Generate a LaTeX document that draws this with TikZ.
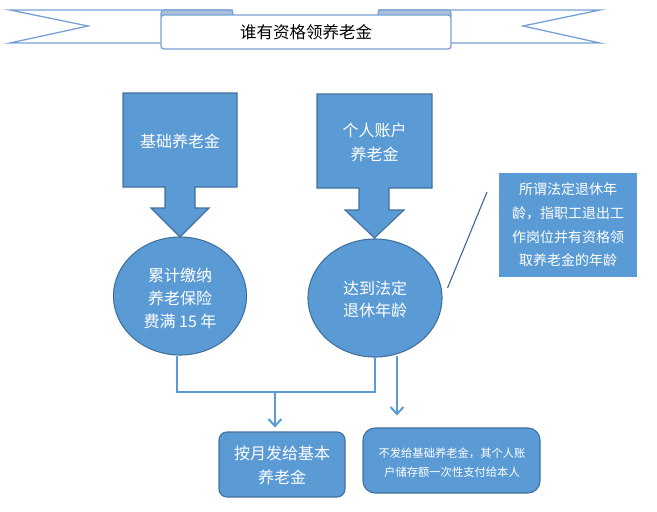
\documentclass[tikz,border=0pt]{standalone}
\usepackage{fontspec}
\setmainfont{Noto Sans CJK SC}
\usetikzlibrary{shapes.geometric,arrows.meta}
\definecolor{fillblue}{RGB}{91,155,213}
\definecolor{edgeblue}{RGB}{65,113,156}
\definecolor{ribbon}{RGB}{120,160,212}
\definecolor{foldc}{RGB}{172,192,222}
\definecolor{leader}{RGB}{70,100,150}
\begin{document}
\begin{tikzpicture}[x=1pt,y=-1pt,
  ribbonline/.style={draw=ribbon,line width=1.3pt,fill=white,line join=miter},
  foldpiece/.style={draw=ribbon,line width=1.1pt,fill=foldc,rounded corners=3pt},
  bluefill/.style={fill=fillblue,draw=edgeblue,line width=1.1pt},
  wtext/.style={text=white,align=center,inner sep=0pt},
  conn/.style={draw=fillblue,line width=2pt},
  tipc/.style={-{Straight Barb[length=7pt,width=13pt,line width=2pt]}}
]
\useasboundingbox (0,0) rectangle (657,512);
\fill[white] (0,0) rectangle (657,512);
% ribbon tails
\draw[ribbonline] (233,10) -- (10,10) -- (88,26) -- (10,43) -- (161,43);
\draw[ribbonline] (378,10) -- (600,10) -- (523,26) -- (600,43) -- (451,43);
% folds
\draw[foldpiece] (161,10) rectangle (233,19);
\draw[foldpiece] (378,10) rectangle (451,19);
% band
\node[ribbonline,rounded corners=3pt,minimum width=290pt,minimum height=34pt,inner sep=0pt,
  font=\fontsize{16.5}{18}\selectfont] (title) at (306,32) {谁有资格领养老金};

% left down-arrow callout
\draw[bluefill] (123,93) -- (237,93) -- (237,187) -- (195,187) -- (195,208) -- (209,208) -- (180,237)
  -- (151,208) -- (165,208) -- (165,187) -- (123,187) -- cycle;
\node[wtext,font=\fontsize{16}{24}\selectfont] (basic) at (180,141) {基础养老金};
% right down-arrow callout
\draw[bluefill] (317,94) -- (432,94) -- (432,188) -- (389,188) -- (389,210) -- (404,210) -- (374.5,238)
  -- (345,210) -- (359,210) -- (359,188) -- (317,188) -- cycle;
\node[wtext,font=\fontsize{16}{24}\selectfont] (personal) at (374.5,142) {个人账户\\养老金};

% ellipses
\node[bluefill,ellipse,minimum width=133pt,minimum height=118pt,inner sep=0pt] (le) at (180,296) {};
\node[wtext,font=\fontsize{16}{23}\selectfont] (letext) at (180,298) {累计缴纳\\养老保险\\费满 15 年};
\node[bluefill,ellipse,minimum width=134pt,minimum height=118pt,inner sep=0pt] (re) at (375,298) {};
\node[wtext,font=\fontsize{16}{22}\selectfont] (retext) at (375,299) {达到法定\\退休年龄};

% note
\node[fill=fillblue,minimum width=138pt,minimum height=104pt,text=white,align=center,inner sep=0pt,
  font=\fontsize{14}{23.7}\selectfont] (note) at (568,225) {所谓法定退休年\\龄，指职工退出工\\作岗位并有资格领\\取养老金的年龄};
\coordinate (leadend) at (487,192);
\draw[leader,line width=1.1pt] ([xshift=5pt,yshift=10pt]re.east) -- (leadend);

% bottom boxes
\node[bluefill,rounded corners=8pt,minimum width=126pt,minimum height=65pt,inner sep=0pt] (monthly) at (282,464.5) {};
\node[wtext,font=\fontsize{16}{24}\selectfont] (monthlytext) at (282,465) {按月发给基本\\养老金};
\node[bluefill,rounded corners=12pt,minimum width=177pt,minimum height=65pt,inner sep=0pt] (lump) at (451.5,460.5) {};
\node[wtext,font=\fontsize{11.3}{19}\selectfont] (lumptext) at (452,462.5) {不发给基础养老金，其个人账\\户储存额一次性支付给本人};

% connectors
\coordinate (jl) at (177,392);
\coordinate (jr) at (375,392);
\coordinate (jm) at (275,392);
\draw[conn] ([xshift=-3pt]le.south) -- (jl) -- (jr) -- (re.south);
\draw[conn,tipc,shorten >=4pt] (jm) -- (jm |- monthly.north);
\draw[conn,tipc,shorten >=10pt] ([xshift=22pt,yshift=2pt]re.south) -- ([xshift=22pt,yshift=2pt]re.south |- lump.north);
\end{tikzpicture}
\end{document}
